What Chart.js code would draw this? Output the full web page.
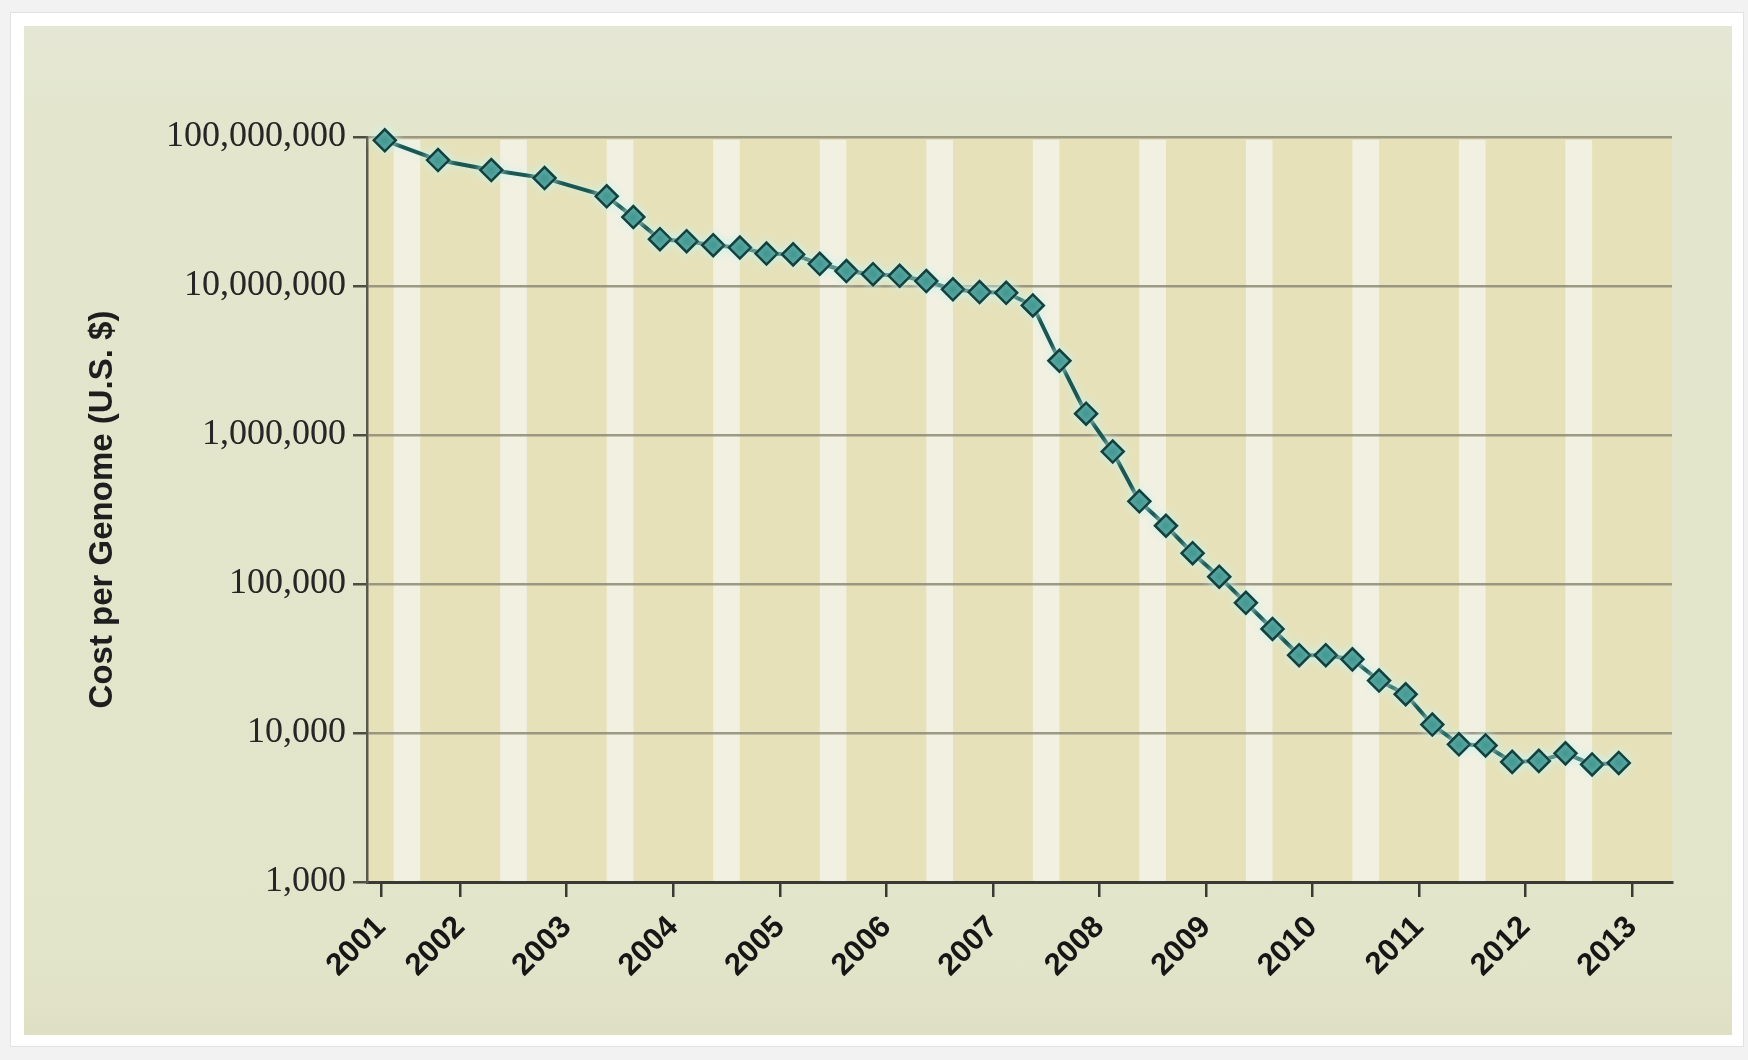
<!DOCTYPE html>
<html>
<head>
<meta charset="utf-8">
<script src="https://cdn.jsdelivr.net/npm/chart.js@4.4.1/dist/chart.umd.min.js"></script>
<style>
  html, body { margin: 0; padding: 0; }
  body { width: 1748px; height: 1060px; background: #f2f2f2; position: relative; overflow: hidden; }
  #card  { position: absolute; left: 10px; top: 12px; width: 1734px; height: 1035px; background: #fff; border: 1px solid #e2e2e2; box-sizing: border-box; }
  #panel { position: absolute; left: 24px; top: 26px; width: 1708px; height: 1009px;
           background: linear-gradient(to bottom, #e5e7d5 0%, #e3e6cc 10%, #e2e5ca 92%, #dfdfc4 100%); }
  #chart { position: absolute; left: 0; top: 0; }
</style>
</head>
<body>
<div id="card"></div>
<div id="panel"></div>
<canvas id="chart" width="1748" height="1060"></canvas>
<script>
(function () {
  // Sequencing cost per genome, one reading per sampling date
  const dates = [
    '2001-09', '2002-03', '2002-09', '2003-03', '2003-10',
    '2004-01', '2004-04', '2004-07', '2004-10',
    '2005-01', '2005-04', '2005-07', '2005-10',
    '2006-01', '2006-04', '2006-07', '2006-10',
    '2007-01', '2007-04', '2007-07', '2007-10',
    '2008-01', '2008-04', '2008-07', '2008-10',
    '2009-01', '2009-04', '2009-07', '2009-10',
    '2010-01', '2010-04', '2010-07', '2010-10',
    '2011-01', '2011-04', '2011-07', '2011-10',
    '2012-01', '2012-04', '2012-07', '2012-10',
    '2013-01', '2013-04',
  ];
  const costs = [
    95000000, 70000000, 60000000, 53000000, 40000000,
    29000000, 20600000, 20000000, 18800000,
    18100000, 16500000, 16300000, 14100000,
    12600000, 12000000, 11700000, 10800000,
    9500000, 9100000, 9000000, 7400000,
    3150000, 1390000, 774000, 359000,
    246000, 161000, 112000, 74800,
    49900, 33300, 33300, 31200,
    22500, 18200, 11400, 8400,
    8250, 6400, 6500, 7300,
    6150, 6300,
  ];

  // x-axis tick marks (decimal year) and their labels
  const xTickPos    = [2001.63, 2002.375, 2003.375, 2004.375, 2005.375, 2006.375, 2007.375,
                       2008.375, 2009.375, 2010.375, 2011.375, 2012.375, 2013.375];
  const xTickLabels = ['2001', '2002', '2003', '2004', '2005', '2006', '2007',
                       '2008', '2009', '2010', '2011', '2012', '2013'];
  const yTicks = [1000, 10000, 100000, 1000000, 10000000, 100000000];

  // fourth quarter of each year is shaded light
  const q4Years = [2001, 2002, 2003, 2004, 2005, 2006, 2007, 2008, 2009, 2010, 2011, 2012];

  const toYear = s => {
    const [y, m] = s.split('-').map(Number);
    return y + (m - 1) / 12;
  };
  const points = dates.map((d, i) => ({ x: toYear(d), y: costs[i] }));

  const plotBg = {
    id: 'plotBg',
    beforeDraw(chart) {
      const { ctx, chartArea: a, scales: { x } } = chart;
      ctx.save();
      ctx.fillStyle = '#e6e1b9';
      ctx.fillRect(a.left, a.top, a.right - a.left, a.bottom - a.top);
      ctx.fillStyle = '#f2f0e1';
      q4Years.forEach(yr => {
        const x0 = x.getPixelForValue(yr + 0.75);
        const x1 = x.getPixelForValue(yr + 1);
        ctx.fillRect(x0, a.top + 3, x1 - x0, a.bottom - a.top - 3);
      });
      ctx.restore();
    },
  };

  // soft light halo around the line and markers
  const halo = {
    id: 'halo',
    beforeDatasetsDraw(chart) {
      const ctx = chart.ctx;
      ctx.save();
      ctx.shadowColor = 'rgba(200, 244, 238, 1)';
      ctx.shadowBlur = 8;
    },
    afterDatasetsDraw(chart) {
      chart.ctx.restore();
    },
  };

  new Chart(document.getElementById('chart'), {
    type: 'line',
    data: {
      datasets: [{
        data: points,
        borderColor: '#1a5753',
        borderWidth: 4,
        pointStyle: 'rectRot',
        pointRadius: 11,
        pointBackgroundColor: '#28857f',
        pointBorderColor: '#153f3c',
        pointBorderWidth: 2.5,
        tension: 0,
        clip: false,
      }],
    },
    options: {
      responsive: false,
      animation: false,
      events: [],
      layout: { padding: { left: 0, top: 137, right: 76, bottom: 0 } },
      plugins: { legend: { display: false }, tooltip: { enabled: false } },
      scales: {
        x: {
          type: 'linear',
          min: 2001.5,
          max: 2013.75,
          afterBuildTicks: axis => { axis.ticks = xTickPos.map(v => ({ value: v })); },
          afterFit: axis => { axis.height = 178; },
          ticks: {
            autoSkip: false,
            minRotation: 45,
            maxRotation: 45,
            padding: 12,
            color: '#161616',
            font: { family: 'Liberation Sans', weight: 'bold', size: 31 },
            callback: (v, i) => xTickLabels[i],
          },
          grid: { drawOnChartArea: false, drawTicks: true, tickLength: 15, tickColor: '#3a3a34', lineWidth: 2.5 },
          border: { display: true, color: '#3a3a34', width: 3 },
        },
        y: {
          type: 'logarithmic',
          min: 1000,
          max: 100000000,
          afterBuildTicks: axis => { axis.ticks = yTicks.map(v => ({ value: v })); },
          afterFit: axis => { axis.width = 367; },
          ticks: {
            padding: 7,
            color: '#262626',
            font: { family: 'Liberation Serif', size: 36 },
            callback: v => Number(v).toLocaleString('en-US'),
          },
          grid: { color: 'rgba(135, 131, 112, 0.8)', lineWidth: 2.5, tickLength: 14, tickColor: '#4e4d44' },
          border: { display: true, color: '#5a594e', width: 2.5 },
          title: {
            display: true,
            text: 'Cost per Genome (U.S. $)',
            color: '#1e1e1e',
            font: { family: 'Liberation Sans', weight: 'bold', size: 33, lineHeight: 1.2 },
            padding: { top: 83, bottom: 0 },
          },
        },
      },
    },
    plugins: [plotBg, halo],
  });
})();
</script>
</body>
</html>
